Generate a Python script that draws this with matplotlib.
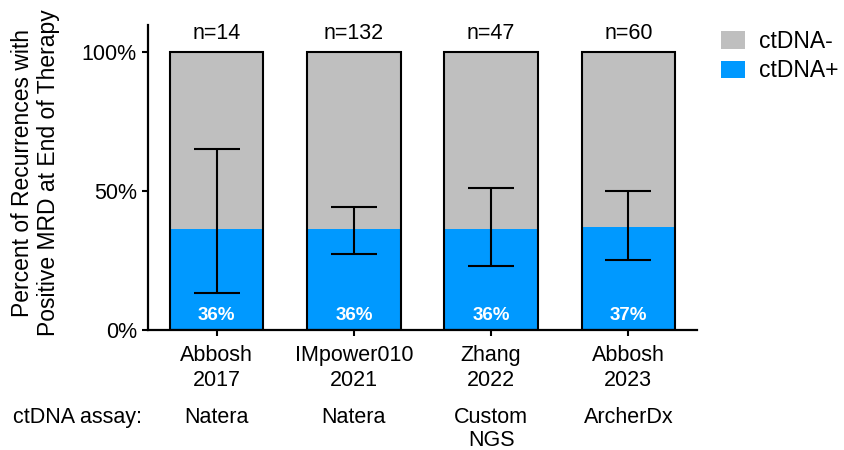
import matplotlib
matplotlib.use("Agg")
import matplotlib.pyplot as plt
from matplotlib.patches import Patch
from matplotlib.transforms import blended_transform_factory

plt.rcParams['font.family'] = ['Liberation Sans', 'DejaVu Sans']

# Studies and their values
studies = ["Abbosh\n2017", "IMpower010\n2021", "Zhang\n2022", "Abbosh\n2023"]
assays = ["Natera", "Natera", "Custom\nNGS", "ArcherDx"]
n_patients = [14, 132, 47, 60]
pct_positive = [36, 36, 36, 37]
ci_low = [13, 27, 23, 25]
ci_high = [65, 44, 51, 50]

color_neg = "#BFBFBF"
color_pos = "#0099FF"

fig = plt.figure(figsize=(8.45, 4.5), dpi=100)
ax = fig.add_axes([148/845, 1-329.5/450, (697-148)/845, (329.5-25)/450])

x = list(range(len(studies)))
width = 0.68
pct_negative = [100 - p for p in pct_positive]

ax.bar(x, pct_positive, width, color=color_pos, linewidth=0, zorder=1)
ax.bar(x, pct_negative, width, bottom=pct_positive, color=color_neg, linewidth=0, zorder=1)
ax.bar(x, [100]*len(x), width, fill=False, edgecolor="black", linewidth=1.5, zorder=2)

yerr = [[p - lo for p, lo in zip(pct_positive, ci_low)],
        [hi - p for p, hi in zip(pct_positive, ci_high)]]
ax.errorbar(x, pct_positive, yerr=yerr, fmt='none', ecolor='black',
            elinewidth=1.5, capsize=16.5, capthick=1.5, zorder=3)

for xi, p in zip(x, pct_positive):
    ax.text(xi, 5, f"{p}%", ha='center', va='center', color='white',
            fontsize=13.5, fontweight='bold', zorder=4)

for xi, n in zip(x, n_patients):
    ax.text(xi, 106.7, f"n={n}", ha='center', va='center', fontsize=15.5, color='black')

ax.set_xlim(-0.5, 3.5)
ax.set_ylim(0, 109.6)
ax.set_yticks([0, 50, 100])
ax.set_yticklabels(["0%", "50%", "100%"])
ax.set_xticks(x)
ax.set_xticklabels(studies, fontsize=15.5, linespacing=1.25)
ax.tick_params(axis='y', labelsize=15.5, length=4, width=1.5, pad=4)
ax.tick_params(axis='x', length=4.5, width=1.5, pad=6.5)

for side in ['top', 'right']:
    ax.spines[side].set_visible(False)
for side in ['left', 'bottom']:
    ax.spines[side].set_linewidth(1.6)

ax.set_ylabel("Percent of Recurrences with\nPositive MRD at End of Therapy",
              fontsize=16.5, linespacing=1.17)
ax.yaxis.set_label_coords(-0.16, 0.515)

trans = blended_transform_factory(ax.transData, fig.transFigure)
for xi, a in zip(x, assays):
    ax.text(xi, 1-407/450, a, transform=trans, ha='center', va='top',
            fontsize=15.5, linespacing=1.15)
fig.text(13/845, 1-407/450, "ctDNA assay:", ha='left', va='top', fontsize=15.5)

handles = [Patch(facecolor=color_neg, edgecolor='none', label="ctDNA-"),
           Patch(facecolor=color_pos, edgecolor='none', label="ctDNA+")]
fig.legend(handles=handles, loc='upper left', bbox_to_anchor=(721/845, 1-30/450),
           frameon=False, fontsize=16.5, handlelength=1.05, handleheight=0.8,
           handletextpad=0.6, labelspacing=0.28, borderpad=0, borderaxespad=0)

fig.savefig("out.png", dpi=100)
